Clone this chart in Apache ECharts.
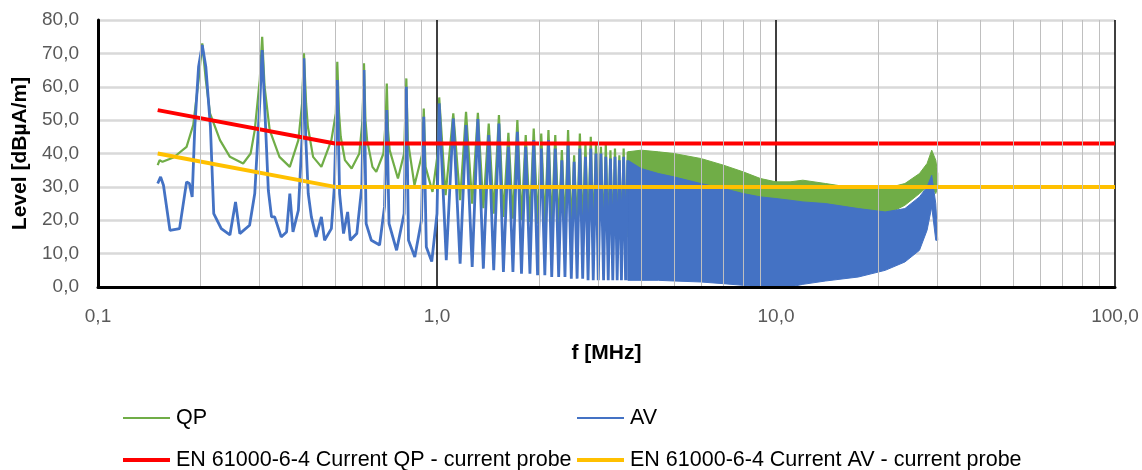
<!DOCTYPE html>
<html>
<head>
<meta charset="utf-8">
<script src="https://cdn.jsdelivr.net/npm/echarts@6/dist/echarts.min.js"></script>
<style>
  html, body { margin: 0; padding: 0; background: #fff; }
  #chart { width: 1142px; height: 470px; }
</style>
</head>
<body>
<div id="chart"></div>
<script>
// QP trace (f in MHz, level in dBuA/m)
var qpFreq = [0.150, 0.152, 0.155, 0.167, 0.1825, 0.191, 0.198, 0.203, 0.208, 0.214, 0.229, 0.245, 0.268, 0.282, 0.290, 0.300, 0.305, 0.310, 0.321, 0.343, 0.368, 0.390, 0.400, 0.405, 0.411, 0.416, 0.431, 0.456, 0.488, 0.503, 0.508, 0.514, 0.520, 0.535, 0.560, 0.590, 0.603, 0.609, 0.615, 0.622, 0.645, 0.662, 0.695, 0.706, 0.711, 0.717, 0.725, 0.767, 0.800, 0.812, 0.820, 0.858, 0.905, 0.914, 0.925, 0.970, 1.005, 1.015,
  1.060, 1.117, 1.170, 1.218, 1.270, 1.320, 1.370, 1.421, 1.470, 1.523, 1.570, 1.624, 1.675, 1.726, 1.775, 1.827, 1.880, 1.929, 1.980, 2.030, 2.080, 2.132, 2.180, 2.233, 2.285, 2.335, 2.385, 2.436, 2.490, 2.538, 2.590, 2.639, 2.690, 2.741, 2.790, 2.842, 2.890, 2.944, 2.990, 3.045, 3.100, 3.147, 3.200, 3.248, 3.300, 3.350, 3.400, 3.451, 3.500, 3.553, 3.600, 3.654];
var qpLevel = [36.5, 38, 37.5, 38.8, 42, 48.6, 62, 73, 62, 52, 44, 39, 37, 40, 47, 62, 75, 60, 47, 39, 36, 44, 55, 70, 55, 48, 39, 36, 44, 52, 67.5, 52, 45, 38, 35.5, 40, 50, 67, 50, 44, 36, 34.5, 40, 50, 61, 47, 41, 32.5, 40, 62.5, 44, 30.5, 40, 53.5, 36, 28.5, 40, 56.8,
  27.5, 52, 26, 52.5, 25, 52.2, 23.6, 49, 22, 51.5, 21, 46.2, 20.5, 50, 20, 45.5, 19.5, 47.5, 19, 46, 18.5, 47, 18, 45.5, 18, 41, 17.5, 47, 17, 39.5, 17, 46, 16.5, 43, 16.5, 45, 16, 43, 16, 42, 15.5, 43, 15.5, 41, 15, 41.5, 15, 39.5, 15, 41.5, 15, 40.5];

// AV trace
var avFreq = [0.150, 0.153, 0.156, 0.163, 0.174, 0.1825, 0.186, 0.1896, 0.193, 0.198, 0.203, 0.208, 0.2146, 0.2195, 0.231, 0.245, 0.2545, 0.262, 0.280, 0.290, 0.300, 0.305, 0.310, 0.318, 0.325, 0.332, 0.347, 0.360, 0.368, 0.376, 0.390, 0.400, 0.405, 0.410, 0.417, 0.426, 0.440, 0.456, 0.466, 0.488, 0.498, 0.508, 0.516, 0.530, 0.545, 0.555, 0.580, 0.600, 0.609, 0.618, 0.640, 0.677, 0.700, 0.711, 0.722, 0.730, 0.760, 0.800, 0.812, 0.824, 0.835, 0.860, 0.900, 0.914, 0.930, 0.965, 1.000, 1.015,
  1.065, 1.117, 1.170, 1.218, 1.270, 1.320, 1.370, 1.421, 1.470, 1.523, 1.570, 1.624, 1.675, 1.726, 1.775, 1.827, 1.880, 1.929, 1.980, 2.030, 2.080, 2.132, 2.180, 2.233, 2.285, 2.335, 2.385, 2.436, 2.490, 2.538, 2.590, 2.639, 2.690, 2.741, 2.790, 2.842, 2.890, 2.944, 2.990, 3.045, 3.100, 3.147, 3.200, 3.248, 3.300, 3.350, 3.400, 3.451, 3.500, 3.553, 3.600, 3.654];
var avLevel = [31, 33, 30.5, 17, 17.5, 31.5, 31, 27, 48, 66, 72.5, 66, 48, 22, 17.5, 15.6, 25.5, 16, 18.5, 28, 55, 71, 55, 29, 21, 21, 15, 16.5, 28, 16.5, 23, 45, 68.5, 45, 28, 21, 15, 21, 14, 17.5, 30, 62, 28, 16, 22.5, 14, 16, 30, 65, 19, 14, 12.6, 24, 53, 19, 19, 11, 22, 60, 14, 14, 9, 20, 51, 12, 7.6, 22, 55,
  8, 50.5, 7, 48.5, 6, 50.3, 5.5, 45.5, 5, 49, 4.5, 42, 4.5, 46.5, 4, 42, 4, 44, 3.5, 41.5, 3.5, 44, 3, 41.5, 3, 38, 3, 43, 2.5, 37.5, 2.5, 41.5, 2.5, 39, 2, 41.5, 2, 40, 2, 40, 2, 39, 2, 38.5, 2, 39, 2, 38, 2, 39, 2, 38];

// above ~3.7 MHz the harmonics merge into a solid band: lower / upper edges
var bandFreq   = [3.654, 4.0, 4.5, 5.0, 6.0, 7.0, 8.0, 9.0, 10.0, 11.0, 12.0, 14.0, 17.5, 21.0, 24.0, 26.5, 27.9, 28.8, 29.6, 30.0];
var qpBandLow  = [15, 15, 15.5, 16, 17, 18, 19, 20, 20.5, 21, 21, 21, 21, 21.5, 24.5, 28, 30, 30, 28, 30];
var qpBandHigh = [40.5, 41, 40.5, 40, 38.5, 36.5, 34.5, 32.5, 31.5, 31.5, 32, 31, 29.5, 29.5, 31, 34, 37, 41, 38, 34];
var avBandLow  = [2, 2, 2, 1.8, 1.5, 1, 0.5, 0, 0, 0, 0.8, 1.8, 3, 5, 7.5, 11, 17, 24, 14, 14];
var avBandHigh = [38, 35.5, 34, 33, 31, 29.5, 28, 27, 26.5, 26, 25.5, 25, 23.5, 22.5, 23.5, 27, 30, 33.5, 25, 14];

// EN 61000-6-4 limits
var limitFreq = [0.15, 0.5, 100];
var qpLimit = [53, 43, 43];
var avLimit = [40, 30, 30];

var minorGridFreq = [0.2, 0.3, 0.4, 0.5, 0.6, 0.7, 0.8, 0.9, 2, 3, 4, 5, 6, 7, 8, 9, 20, 30, 40, 50, 60, 70, 80, 90];

var QP_COLOR = '#70ad47', AV_COLOR = '#4472c4', QP_LIM = '#ff0000', AV_LIM = '#ffc000';
var FONT = "'Liberation Sans', Arial, sans-serif";

function pairs(xs, ys) {
    var out = [];
    for (var i = 0; i < xs.length; i++) out.push([xs[i], ys[i]]);
    return out;
}
function comma(v) {
    return (Math.round(v * 10) / 10).toFixed(1).replace('.', ',');
}

var chart = echarts.init(document.getElementById('chart'), null, {renderer: 'canvas'});

function lineSeries(name, data, color, width, extra) {
    var s = {
        name: name, type: 'line', data: data,
        showSymbol: false, symbol: 'none', animation: false, silent: true,
        sampling: null, smooth: false,
        lineStyle: {color: color, width: width},
        itemStyle: {color: color},
        emphasis: {disabled: true}
    };
    for (var k in extra) s[k] = extra[k];
    return s;
}

/**
  * Filled band between a lower and an upper edge, drawn as one polygon
  * through the axis scales (stacking does not work on a log/value grid)
  */
function bandSeries(name, lo, hi, color) {
    var data = [];
    for (var i = 0; i < bandFreq.length; i++) data.push([bandFreq[i], lo[i], hi[i]]);
    return {
        name: name, type: 'custom', data: data, silent: true, animation: false,
        itemStyle: {color: color},
        encode: {x: 0, y: [1, 2]},
        clip: true,
        renderItem: function (params, api) {
            if (params.dataIndex !== 0) return;
            var top = [], bottom = [];
            for (var i = 0; i < data.length; i++) {
                top.push(api.coord([data[i][0], data[i][2]]));
                bottom.unshift(api.coord([data[i][0], data[i][1]]));
            }
            return {
                type: 'polygon',
                shape: {points: top.concat(bottom)},
                style: {fill: color, stroke: color, lineWidth: 1}
            };
        }
    };
}

function legendAt(name, color, left, top, thick) {
    return {
        left: left, top: top, icon: 'rect', itemWidth: 47, itemHeight: thick, itemGap: 0,
        selectedMode: false,
        textStyle: {fontFamily: FONT, fontSize: 21.5, color: '#000', padding: [0, 0, 0, 1]},
        data: [{name: name, itemStyle: {color: color}}]
    };
}

var option = {
    backgroundColor: '#fff',
    animation: false,
    grid: {left: 98, right: 27, top: 20, bottom: 183},
    legend: [
        legendAt('QP', QP_COLOR, 118, 402, 2),
        legendAt('AV', AV_COLOR, 572, 402, 2),
        legendAt('EN 61000-6-4 Current QP - current probe', QP_LIM, 118, 444, 4),
        legendAt('EN 61000-6-4 Current AV - current probe', AV_LIM, 572, 444, 4)
    ],
    xAxis: [{
        type: 'log', logBase: 10, min: 0.1, max: 100,
        name: 'f [MHz]', nameLocation: 'middle', nameGap: 56,
        nameTextStyle: {fontFamily: FONT, fontSize: 21, fontWeight: 'bold', color: '#000'},
        axisLine: {show: false},
        axisTick: {show: false},
        axisLabel: {fontFamily: FONT, fontSize: 19, color: '#595959', margin: 20, formatter: comma},
        splitLine: {show: true, lineStyle: {color: '#000', width: 1.5}}
    }, {
        type: 'log', logBase: 10, min: 0.1, max: 100, z: 10, position: 'bottom',
        axisLine: {show: true, onZero: false, lineStyle: {color: '#000', width: 3}},
        axisTick: {show: false}, axisLabel: {show: false}, splitLine: {show: false}
    }],
    yAxis: {
        type: 'value', min: 0, max: 80, interval: 10,
        name: 'Level [dBµA/m]', nameLocation: 'middle', nameGap: 64, nameRotate: 90,
        nameTextStyle: {fontFamily: FONT, fontSize: 21, fontWeight: 'bold', color: '#000'},
        axisLine: {show: true, lineStyle: {color: '#000', width: 3}},
        axisTick: {show: false},
        axisLabel: {fontFamily: FONT, fontSize: 19, color: '#595959', margin: 19, formatter: comma},
        splitLine: {show: true, lineStyle: {color: '#d9d9d9', width: 2.5}}
    },
    series: [
        lineSeries('minor', [], '#bfbfbf', 1, {
            z: 1,
            markLine: {
                silent: true, symbol: ['none', 'none'], animation: false,
                label: {show: false},
                lineStyle: {color: '#bfbfbf', width: 1, type: 'solid'},
                data: minorGridFreq.map(function (f) { return {xAxis: f}; })
            }
        }),
        lineSeries('QP', pairs(qpFreq, qpLevel), QP_COLOR, 2.2),
        bandSeries('QP', qpBandLow, qpBandHigh, QP_COLOR),
        lineSeries('AV', pairs(avFreq, avLevel), AV_COLOR, 2.8),
        bandSeries('AV', avBandLow, avBandHigh, AV_COLOR),
        lineSeries('EN 61000-6-4 Current QP - current probe', pairs(limitFreq, qpLimit), QP_LIM, 4),
        lineSeries('EN 61000-6-4 Current AV - current probe', pairs(limitFreq, avLimit), AV_LIM, 4)
    ]
};
chart.setOption(option);
</script>
</body>
</html>
